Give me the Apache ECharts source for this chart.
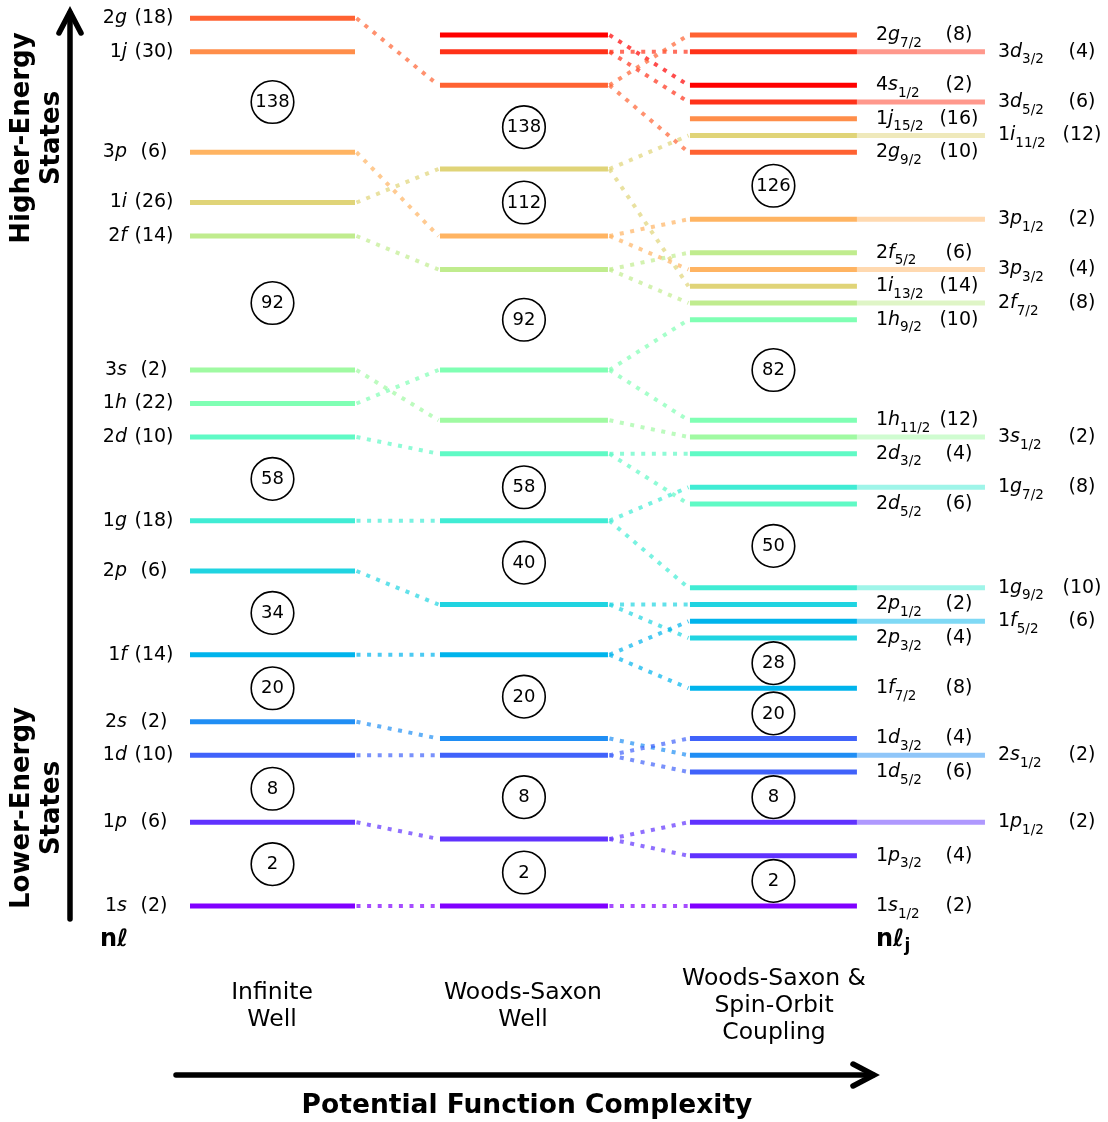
<!DOCTYPE html>
<html>
<head>
<meta charset="utf-8">
<title>Nuclear shell model energy levels</title>
<script src="https://cdn.jsdelivr.net/npm/echarts@6/dist/echarts.min.js"></script>
<style>
  html, body { margin: 0; padding: 0; background: #ffffff; }
  #chart { width: 1108px; height: 1122px; }
</style>
</head>
<body>
<div id="chart"></div>
<script>
// Orbitals in filling order, used to pick each level's colour
const orbitalOrder = ['1s','1p','1d','2s','1f','2p','1g','2d','1h','3s','2f','1i','3p','1j','2g','3d','4s'];
const orbitalColors = ['#8000ff','#6032fe','#4062fa','#208ef4','#00b4ec','#20d4e1','#40ecd4','#60fac5',
                       '#80ffb4','#a0faa2','#c0ec8e','#e0d478','#ffb462','#ff8e4a','#ff6232','#ff3219','#ff0000'];

// Infinite square well (energies in arbitrary level units)
const wellStates     = ['1s','1p','1d','2s','1f','2p','1g','2d','1h','3s','2f','1i','3p','1j','2g'];
const wellEnergy     = [0, 5, 9, 11, 15, 20, 23, 28, 30, 32, 40, 42, 45, 51, 53];
const wellDegeneracy = [2, 6, 10, 2, 14, 6, 18, 10, 22, 2, 14, 26, 6, 30, 18];
const wellMagic      = [2, 8, 20, 34, 58, 92, 138];

// Woods-Saxon well
const wsStates     = ['1s','1p','1d','2s','1f','2p','1g','2d','3s','1h','2f','3p','1i','2g','3d','4s'];
const wsEnergy     = [0, 4, 9, 10, 15, 18, 23, 27, 29, 32, 38, 40, 44, 49, 51, 52];
const wsDegeneracy = [2, 6, 10, 2, 14, 6, 18, 10, 2, 22, 14, 6, 26, 18, 10, 2];
const wsMagic      = [2, 8, 20, 40, 58, 92, 112, 138];

// Woods-Saxon well with spin-orbit coupling
const soStates = ['1s1/2','1p3/2','1p1/2','1d5/2','2s1/2','1d3/2','1f7/2','2p3/2','1f5/2','2p1/2',
                  '1g9/2','2d5/2','1g7/2','2d3/2','3s1/2','1h11/2','1h9/2','2f7/2','1i13/2','3p3/2',
                  '2f5/2','3p1/2','2g9/2','1i11/2','1j15/2','3d5/2','4s1/2','3d3/2','2g7/2'];
const soEnergy = [0, 3, 5, 8, 9, 10, 13, 16, 17, 18,
                  19, 24, 25, 27, 28, 29, 35, 36, 37, 38,
                  39, 41, 45, 46, 47, 48, 49, 51, 52];
const soDegeneracy = [2, 4, 2, 6, 2, 4, 8, 4, 6, 2,
                      10, 6, 8, 4, 2, 12, 10, 8, 14, 4,
                      6, 2, 10, 12, 16, 6, 2, 4, 8];
const soMagic = [2, 8, 20, 28, 50, 82, 126];
// levels drawn with a longer bar and their label in the outer column
const soOuterLabels = ['1p1/2','2s1/2','1f5/2','1g9/2','1g7/2','3s1/2','2f7/2','3p3/2','3p1/2','1i11/2','3d5/2','3d3/2'];

// ---- layout (x in column units) ----
const COLS = [[0, 1], [1.515, 2.533], [3.03, 4.042]];
const EXT_END = 4.818;
const FONT = 'DejaVu Sans';

const colorOf = name => orbitalOrder.indexOf(name.slice(0, 2));

// level bars: [x0, x1, energy, colourIndex, opacity]
const levelData = [];
wellStates.forEach((s, i) => levelData.push([COLS[0][0], COLS[0][1], wellEnergy[i], colorOf(s), 1]));
wsStates.forEach((s, i) => levelData.push([COLS[1][0], COLS[1][1], wsEnergy[i], colorOf(s), 1]));
soStates.forEach((s, i) => {
  levelData.push([COLS[2][0], COLS[2][1], soEnergy[i], colorOf(s), 1]);
  if (soOuterLabels.includes(s)) levelData.push([COLS[2][1], EXT_END, soEnergy[i], colorOf(s), 0.5]);
});

// dotted links between columns: [xa, ea, xb, eb, colourIndex]
const linkData = [];
wsStates.forEach((s, i) => {
  const k = wellStates.indexOf(s);
  if (k >= 0) linkData.push([COLS[0][1], wellEnergy[k], COLS[1][0], wsEnergy[i], colorOf(s)]);
});
soStates.forEach((s, j) => {
  const k = wsStates.indexOf(s.slice(0, 2));
  if (k >= 0) linkData.push([COLS[1][1], wsEnergy[k], COLS[2][0], soEnergy[j], colorOf(s)]);
});

// magic numbers sit midway between the level that closes the shell and the next one
function magicData(col, energy, degeneracy, magic) {
  const out = [];
  let sum = 0;
  const cum = degeneracy.map(d => (sum += d));
  magic.forEach(m => {
    const k = cum.indexOf(m);
    if (k >= 0 && k + 1 < energy.length) {
      out.push([(COLS[col][0] + COLS[col][1]) / 2, (energy[k] + energy[k + 1]) / 2, m]);
    }
  });
  return out;
}
const circleData = []
  .concat(magicData(0, wellEnergy, wellDegeneracy, wellMagic))
  .concat(magicData(1, wsEnergy, wsDegeneracy, wsMagic))
  .concat(magicData(2, soEnergy, soDegeneracy, soMagic));

const richStyles = {
  n: { fontFamily: FONT, fontSize: 19, lineHeight: 30, verticalAlign: 'middle', fill: '#000' },
  l: { fontFamily: FONT, fontSize: 19, lineHeight: 30, verticalAlign: 'middle', fontStyle: 'italic', fill: '#000' },
  s: { fontFamily: FONT, fontSize: 13.5, lineHeight: 30, verticalAlign: 'bottom', fill: '#000' }
};

const chart = echarts.init(document.getElementById('chart'), null, { renderer: 'canvas' });

chart.setOption({
  animation: false,
  backgroundColor: '#ffffff',
  grid: { left: 190, top: 18.25, width: 825, height: 887.75 },
  xAxis: { type: 'value', min: 0, max: 5, show: false },
  yAxis: { type: 'value', min: 0, max: 53, show: false },
  graphic: [
    // energy arrow
    { type: 'line', shape: { x1: 70, y1: 919, x2: 70, y2: 13 }, style: { stroke: '#000', lineWidth: 5.5, lineCap: 'round' } },
    { type: 'polyline', shape: { points: [[59, 33], [70, 12], [81, 33]] }, style: { stroke: '#000', lineWidth: 5.5, fill: null, lineCap: 'round', lineJoin: 'miter' } },
    // complexity arrow
    { type: 'line', shape: { x1: 176, y1: 1075, x2: 873, y2: 1075 }, style: { stroke: '#000', lineWidth: 5.5, lineCap: 'round' } },
    { type: 'polyline', shape: { points: [[853, 1064], [874, 1075], [853, 1086]] }, style: { stroke: '#000', lineWidth: 5.5, fill: null, lineCap: 'round', lineJoin: 'miter' } },
    { type: 'text', x: 37, y: 138, rotation: Math.PI / 2,
      style: { text: 'Higher-Energy\nStates', fontFamily: FONT, fontWeight: 'bold', fontSize: 26, lineHeight: 30, align: 'center', verticalAlign: 'middle', fill: '#000' } },
    { type: 'text', x: 37, y: 808, rotation: Math.PI / 2,
      style: { text: 'Lower-Energy\nStates', fontFamily: FONT, fontWeight: 'bold', fontSize: 26, lineHeight: 30, align: 'center', verticalAlign: 'middle', fill: '#000' } },
    { type: 'text', x: 100, y: 940,
      style: { text: 'nℓ', fontFamily: FONT, fontWeight: 'bold', fontSize: 24, align: 'left', verticalAlign: 'middle', fill: '#000' } },
    { type: 'text', x: 876, y: 940,
      style: { text: '{a|nℓ}{b|j}', align: 'left', verticalAlign: 'middle',
        rich: { a: { fontFamily: FONT, fontWeight: 'bold', fontSize: 24, lineHeight: 30, verticalAlign: 'middle', fill: '#000' },
                b: { fontFamily: FONT, fontWeight: 'bold', fontSize: 17, lineHeight: 30, verticalAlign: 'bottom', fill: '#000' } } } },
    { type: 'text', x: 272, y: 1006,
      style: { text: 'Infinite\nWell', fontFamily: FONT, fontSize: 23.5, lineHeight: 27, align: 'center', verticalAlign: 'middle', fill: '#000' } },
    { type: 'text', x: 523, y: 1006,
      style: { text: 'Woods-Saxon\nWell', fontFamily: FONT, fontSize: 23.5, lineHeight: 27, align: 'center', verticalAlign: 'middle', fill: '#000' } },
    { type: 'text', x: 774, y: 1006,
      style: { text: 'Woods-Saxon &\nSpin-Orbit\nCoupling', fontFamily: FONT, fontSize: 23.5, lineHeight: 27, align: 'center', verticalAlign: 'middle', fill: '#000' } },
    { type: 'text', x: 527, y: 1106,
      style: { text: 'Potential Function Complexity', fontFamily: FONT, fontWeight: 'bold', fontSize: 26.5, align: 'center', verticalAlign: 'middle', fill: '#000' } }
  ],
  series: [
    {
      // magic-number circles
      type: 'custom', name: 'magic', clip: false, z: 1,
      data: circleData,
      renderItem(params, api) {
        const p = api.coord([api.value(0), api.value(1)]);
        return {
          type: 'group',
          children: [
            { type: 'circle', shape: { cx: p[0], cy: p[1], r: 21.3 }, style: { fill: '#ffffff', stroke: '#000', lineWidth: 1.6 } },
            { type: 'text', x: p[0], y: p[1] + 0.5,
              style: { text: String(api.value(2)), fontFamily: FONT, fontSize: 18, align: 'center', verticalAlign: 'middle', fill: '#000' } }
          ]
        };
      }
    },
    {
      // dotted connections between columns
      type: 'custom', name: 'links', clip: false, z: 2,
      data: linkData,
      renderItem(params, api) {
        const a = api.coord([api.value(0), api.value(1)]);
        const b = api.coord([api.value(2), api.value(3)]);
        return {
          type: 'line',
          shape: { x1: a[0] + 1.5, y1: a[1], x2: b[0] - 1.5, y2: b[1] },
          style: { stroke: orbitalColors[api.value(4)], lineWidth: 4, lineDash: [4, 6.6], opacity: 0.7 }
        };
      }
    },
    {
      // level bars
      type: 'custom', name: 'levels', clip: false, z: 3,
      data: levelData,
      renderItem(params, api) {
        const a = api.coord([api.value(0), api.value(2)]);
        const b = api.coord([api.value(1), api.value(2)]);
        return {
          type: 'line',
          shape: { x1: a[0], y1: a[1], x2: b[0], y2: b[1] },
          style: { stroke: orbitalColors[api.value(3)], lineWidth: 5, opacity: api.value(4) }
        };
      }
    },
    {
      // infinite-well labels: nℓ and (degeneracy)
      type: 'custom', name: 'wellLabels', clip: false, z: 4,
      data: wellEnergy.map((e, i) => [COLS[0][0], e, wellDegeneracy[i]]),
      renderItem(params, api) {
        const p = api.coord([api.value(0), api.value(1)]);
        const s = wellStates[params.dataIndex];
        return {
          type: 'group',
          children: [
            { type: 'text', x: p[0] - 63, y: p[1],
              style: { text: '{n|' + s[0] + '}{l|' + s[1] + '}', rich: richStyles, align: 'right', verticalAlign: 'middle' } },
            { type: 'text', x: p[0] - 36, y: p[1],
              style: { text: '(' + api.value(2) + ')', fontFamily: FONT, fontSize: 19, align: 'center', verticalAlign: 'middle', fill: '#000' } }
          ]
        };
      }
    },
    {
      // spin-orbit labels: nℓj and (degeneracy)
      type: 'custom', name: 'soLabels', clip: false, z: 4,
      data: soEnergy.map((e, i) => [COLS[2][1], e, soDegeneracy[i]]),
      renderItem(params, api) {
        const s = soStates[params.dataIndex];
        const outer = soOuterLabels.includes(s);
        const p = api.coord([outer ? EXT_END : api.value(0), api.value(1)]);
        const tx = p[0] + 19;
        const dx = p[0] + (outer ? 97 : 102);
        return {
          type: 'group',
          children: [
            { type: 'text', x: tx - (outer ? 6 : 0), y: p[1],
              style: { text: '{n|' + s[0] + '}{l|' + s[1] + '}{s|' + s.slice(2) + '}', rich: richStyles, align: 'left', verticalAlign: 'middle' } },
            { type: 'text', x: dx, y: p[1],
              style: { text: '(' + api.value(2) + ')', fontFamily: FONT, fontSize: 19, align: 'center', verticalAlign: 'middle', fill: '#000' } }
          ]
        };
      }
    }
  ]
});
</script>
</body>
</html>
